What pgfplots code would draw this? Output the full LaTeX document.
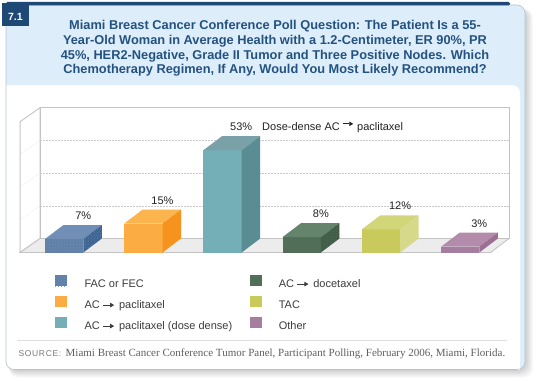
\documentclass[border=0pt]{standalone}
\usepackage{pgfplots}
\pgfplotsset{compat=1.18}
\usepackage{fontspec}
\setmainfont{Liberation Sans}
\newfontfamily\seriffont{Liberation Serif}
\usetikzlibrary{arrows.meta,patterns}

\definecolor{cardblue}{RGB}{221,238,250}
\definecolor{cardedge}{RGB}{180,196,210}
\definecolor{darkblue}{RGB}{30,72,118}
\definecolor{titleblue}{RGB}{36,82,128}
\definecolor{lbl}{RGB}{35,35,35}
\definecolor{lbl2}{RGB}{60,60,60}
\definecolor{srcgrey}{RGB}{120,120,120}
\definecolor{srcgrey2}{RGB}{95,95,95}
\definecolor{sepgrey}{RGB}{222,222,222}
\definecolor{wallgrey}{RGB}{196,196,196}
\definecolor{floorgrey}{RGB}{236,236,236}
\definecolor{gridgrey}{RGB}{200,200,200}
% bars
\definecolor{aF}{RGB}{96,128,168}\definecolor{aT}{RGB}{112,142,182}\definecolor{aS}{RGB}{62,100,145}
\definecolor{bF}{RGB}{251,173,68}\definecolor{bT}{RGB}{251,180,78}\definecolor{bS}{RGB}{246,146,30}
\definecolor{cF}{RGB}{116,174,182}\definecolor{cT}{RGB}{122,160,168}\definecolor{cS}{RGB}{90,140,147}
\definecolor{dF}{RGB}{80,110,88}\definecolor{dT}{RGB}{100,132,108}\definecolor{dS}{RGB}{64,94,72}
\definecolor{eF}{RGB}{200,203,92}\definecolor{eT}{RGB}{210,213,120}\definecolor{eS}{RGB}{214,217,138}
\definecolor{fF}{RGB}{165,125,158}\definecolor{fT}{RGB}{178,140,170}\definecolor{fS}{RGB}{155,110,147}

\newcommand{\arr}[4]{\hspace{#1}\tikz[baseline={(0pt,-3pt)}]\draw[line width=0.8pt,draw=#4,-{Triangle[length=4pt,width=4.4pt]}] (0,0)--(#2,0);\hspace{#3}}

\begin{document}
\begin{tikzpicture}
\path[use as bounding box] (0,0) rectangle (540pt,381pt);
\fill[white] (0,0) rectangle (540pt,381pt);
\begin{scope}[x=1pt,y=-1pt,yshift=381pt]
  % shadow
  \foreach \s in {1,...,8} {\fill[black,opacity=0.022,rounded corners=9pt] (9,9) rectangle ({525+\s},{369.5+\s});}
  % card
  \fill[cardblue,rounded corners=8pt] (6,5) rectangle (525,369.5);
  % white panel
  \fill[white,rounded corners=8pt] (6,85) rectangle (520,369.5);
  \fill[white] (6,85) rectangle (20,100);
  \fill[white] (505,355) rectangle (520,369.5);
  \draw[cardedge,line width=0.6pt,rounded corners=8pt] (6,5) rectangle (525,369.5);
  % top stripe and badge
  \fill[darkblue,rounded corners=1.5pt] (6,1.8) rectangle (510,5.5);
  \fill[darkblue] (1.7,2.7) rectangle (29,26);
  \node[text=white,font=\bfseries\fontsize{10.5}{12}\selectfont,anchor=base,inner sep=0] at (15.3,20.7) {7.1};
  % title
  \begin{scope}[every node/.style={anchor=base,inner sep=0,text=titleblue,font=\bfseries\fontsize{12.8}{15}\selectfont}]
    \node at (275,29.5) {Miami Breast Cancer Conference Poll Question: The Patient Is a 55-};
    \node at (275,44.3) {Year-Old Woman in Average Health with a 1.2-Centimeter, ER 90\%, PR};
    \node at (275,59.1) {45\%, HER2-Negative, Grade II Tumor and Three Positive Nodes. Which};
    \node at (275,73.9) {Chemotherapy Regimen, If Any, Would You Most Likely Recommend?};
  \end{scope}
  % separator and source
  \draw[sepgrey,line width=0.7pt] (17.3,340.7) -- (506.7,340.7);
  \node[anchor=base west,inner sep=0,text=srcgrey,font=\fontsize{8.5}{10}\selectfont\addfontfeature{LetterSpace=8}] at (18.3,356.7) {SOURCE:};
  \node[anchor=base west,inner sep=0,text=srcgrey2,font=\seriffont\fontsize{11}{12}\selectfont] at (65.5,356.7) {Miami Breast Cancer Conference Tumor Panel, Participant Polling, February 2006, Miami, Florida.};
\end{scope}

\begin{axis}[
  x=79.2pt, y=1.93pt,
  anchor=origin, at={(64.15pt,128.5pt)},
  xmin=-0.6, xmax=5.7, ymin=-2, ymax=77,
  hide axis, clip=false,
  /pgf/number format/assume math mode=true,
  legend columns=3, transpose legend,
  legend style={at={(axis cs:-0.113,-11.7)}, anchor=north west, draw=none, fill=none,
    inner sep=0pt, outer sep=0pt, row sep=6pt, column sep=0pt,
    font=\fontsize{11}{13}\selectfont, text=lbl2,
    nodes={inner sep=0pt, text height=8pt, text depth=3pt},
    /tikz/every odd column/.append style={column sep=17.3pt}},
  mybar/.style={ybar, bar width=0.4836, bar shift=0pt, draw=none,
    nodes near coords={\pgfmathprintnumber{\pgfplotspointmeta}\%},
    every node near coord/.append style={anchor=base, xshift=19.15pt, yshift=19.5pt,
      font=\fontsize{11}{13}\selectfont, text=lbl, inner sep=0pt},
    legend image code/.code={\fill[##1,draw=none] (0pt,-1.5pt) rectangle (12pt,9.5pt);}},
  face/.style={draw=none, forget plot, mark=none},
]
% box: back wall, left wall, floor
\addplot[face, fill=white, draw=wallgrey, line width=0.9pt] coordinates {(-0.305,7.25) (5.6168,7.25) (5.6168,75.01) (-0.305,75.01)} -- cycle;
\addplot[face, fill=white, draw=wallgrey, line width=0.9pt] coordinates {(-0.5568,0) (-0.305,7.25) (-0.305,75.01) (-0.5568,67.76)} -- cycle;
\addplot[face, fill=floorgrey, draw=wallgrey, line width=0.9pt] coordinates {(-0.5568,0) (5.3832,0) (5.6168,7.25) (-0.305,7.25)} -- cycle;
% gridlines
\addplot[face, draw=gridgrey, densely dotted, line width=0.5pt] coordinates {(-0.305,24.19) (5.6168,24.19)};
\addplot[face, draw=gridgrey, densely dotted, line width=0.5pt] coordinates {(-0.305,41.13) (5.6168,41.13)};
\addplot[face, draw=gridgrey, densely dotted, line width=0.5pt] coordinates {(-0.305,58.07) (5.6168,58.07)};
\addplot[face, draw=gridgrey!60, densely dotted, line width=0.5pt] coordinates {(-0.5568,16.94) (-0.305,24.19)};
\addplot[face, draw=gridgrey!60, densely dotted, line width=0.5pt] coordinates {(-0.5568,33.88) (-0.305,41.13)};
\addplot[face, draw=gridgrey!60, densely dotted, line width=0.5pt] coordinates {(-0.5568,50.82) (-0.305,58.07)};

% bar 1: FAC or FEC
\addplot[mybar, fill=aF, postaction={pattern=crosshatch dots, pattern color=aT}] coordinates {(0,7)};
\addlegendentry{\makebox[165pt][l]{FAC or FEC}}
\addplot[face, fill=aT] coordinates {(-0.2418,7) (0.2418,7) (0.4754,14.25) (-0.0082,14.25)} -- cycle;
\addplot[face, fill=aS, postaction={pattern=crosshatch dots, pattern color=aF}] coordinates {(0.2418,0) (0.4754,7.25) (0.4754,14.25) (0.2418,7)} -- cycle;

% bar 2: AC -> paclitaxel
\addplot[mybar, fill=bF] coordinates {(1,15)};
\addlegendentry{\makebox[165pt][l]{AC\arr{3pt}{11pt}{4.5pt}{lbl2}paclitaxel}}
\addplot[face, fill=bT] coordinates {(0.7582,15) (1.2418,15) (1.4754,22.25) (0.9918,22.25)} -- cycle;
\addplot[face, fill=bS] coordinates {(1.2418,0) (1.4754,7.25) (1.4754,22.25) (1.2418,15)} -- cycle;

% bar 3: dose dense
\addplot[mybar, fill=cF,
  nodes near coords={\pgfmathprintnumber{\pgfplotspointmeta}\%\hspace{10pt}Dose-dense AC\arr{2.5pt}{10.5pt}{3.5pt}{lbl}paclitaxel},
  every node near coord/.append style={anchor=base west, xshift=-11.7pt}] coordinates {(2,53)};
\addlegendentry{\makebox[165pt][l]{AC\arr{3pt}{11pt}{4.5pt}{lbl2}paclitaxel (dose dense)}}
\addplot[face, fill=cT] coordinates {(1.7582,53) (2.2418,53) (2.4754,60.25) (1.9918,60.25)} -- cycle;
\addplot[face, fill=cS] coordinates {(2.2418,0) (2.4754,7.25) (2.4754,60.25) (2.2418,53)} -- cycle;

% bar 4: AC -> docetaxel
\addplot[mybar, fill=dF] coordinates {(3,8)};
\addlegendentry{\makebox[165pt][l]{AC\arr{3pt}{11pt}{4.5pt}{lbl2}docetaxel}}
\addplot[face, fill=dT] coordinates {(2.7582,8) (3.2418,8) (3.4754,15.25) (2.9918,15.25)} -- cycle;
\addplot[face, fill=dS, postaction={pattern=dots, pattern color=black!55}] coordinates {(3.2418,0) (3.4754,7.25) (3.4754,15.25) (3.2418,8)} -- cycle;

% bar 5: TAC
\addplot[mybar, fill=eF] coordinates {(4,12)};
\addlegendentry{\makebox[165pt][l]{TAC}}
\addplot[face, fill=eT] coordinates {(3.7582,12) (4.2418,12) (4.4754,19.25) (3.9918,19.25)} -- cycle;
\addplot[face, fill=eS] coordinates {(4.2418,0) (4.4754,7.25) (4.4754,19.25) (4.2418,12)} -- cycle;

% bar 6: Other
\addplot[mybar, fill=fF] coordinates {(5,3)};
\addlegendentry{\makebox[165pt][l]{Other}}
\addplot[face, fill=fT] coordinates {(4.7582,3) (5.2418,3) (5.4754,10.25) (4.9918,10.25)} -- cycle;
\addplot[face, fill=fS] coordinates {(5.2418,0) (5.4754,7.25) (5.4754,10.25) (5.2418,3)} -- cycle;
\end{axis}
\end{tikzpicture}
\end{document}
